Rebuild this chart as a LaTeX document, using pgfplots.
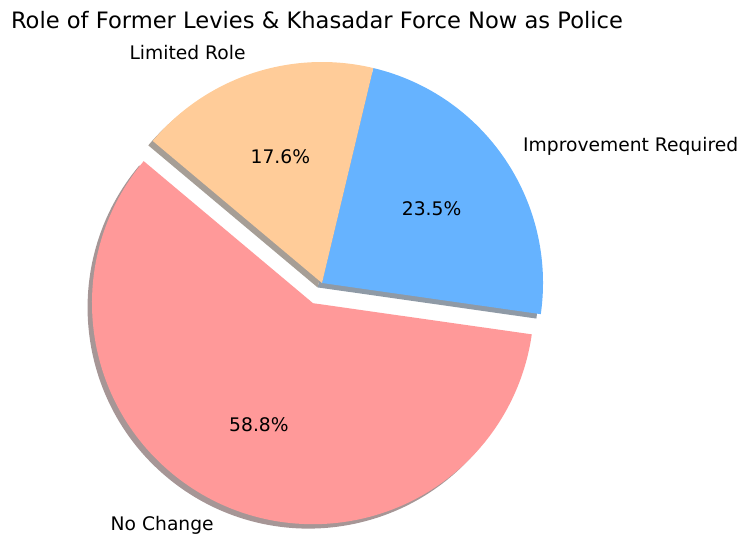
\documentclass[border=0pt]{standalone}
\usepackage{pgfplots}
\pgfplotsset{compat=1.18}
\usepackage{pgfplotstable}
\usepackage{fontspec}
\setmainfont{DejaVu Sans}
\definecolor{cNo}{HTML}{FF9999}
\definecolor{cImp}{HTML}{66B3FF}
\definecolor{cLim}{HTML}{FFCC99}
\definecolor{sNo}{RGB}{166,150,150}
\definecolor{sImp}{RGB}{143,154,166}
\definecolor{sLim}{RGB}{166,158,150}

\pgfplotstableread[col sep=comma]{
label,value
No Change,58.8
Improvement Required,23.5
Limited Role,17.6
}\piedata

\begin{document}
\begin{tikzpicture}
\pgfplotstablegetelem{0}{value}\of\piedata \pgfmathsetmacro\va{\pgfplotsretval}
\pgfplotstablegetelem{1}{value}\of\piedata \pgfmathsetmacro\vb{\pgfplotsretval}
\pgfplotstablegetelem{2}{value}\of\piedata \pgfmathsetmacro\vc{\pgfplotsretval}
\pgfplotstablegetelem{0}{label}\of\piedata \let\la\pgfplotsretval
\pgfplotstablegetelem{1}{label}\of\piedata \let\lb\pgfplotsretval
\pgfplotstablegetelem{2}{label}\of\piedata \let\lc\pgfplotsretval
\def\R{221}
\pgfmathsetmacro\tot{\va+\vb+\vc}
\pgfmathsetmacro\fa{\va/\tot}
\pgfmathsetmacro\fb{\vb/\tot}
\pgfmathsetmacro\fc{\vc/\tot}
\pgfmathsetmacro\sA{140}
\pgfmathsetmacro\eA{\sA+\fa*360}
\pgfmathsetmacro\eB{\eA+\fb*360}
\pgfmathsetmacro\eC{\eB+\fc*360}
\pgfmathsetmacro\mA{(\sA+\eA)/2}
\pgfmathsetmacro\mB{(\eA+\eB)/2}
\pgfmathsetmacro\mC{(\eB+\eC)/2}
% exploded centre of first wedge
\pgfmathsetmacro\oxA{0.1*\R*cos(\mA)}
\pgfmathsetmacro\oyA{0.1*\R*sin(\mA)}
% shadow offsets
\def\sh{4.42}
\pgfmathsetmacro\sxA{\oxA-\sh}
\pgfmathsetmacro\syA{\oyA-\sh}
% label positions
\pgfmathsetmacro\lxA{\oxA+1.1*\R*cos(\mA)}
\pgfmathsetmacro\lyA{\oyA+1.1*\R*sin(\mA)}
\pgfmathsetmacro\lxB{1.1*\R*cos(\mB)}
\pgfmathsetmacro\lyB{1.1*\R*sin(\mB)}
\pgfmathsetmacro\lxC{1.1*\R*cos(\mC)}
\pgfmathsetmacro\lyC{1.1*\R*sin(\mC)}
\pgfmathsetmacro\pxA{\oxA+0.6*\R*cos(\mA)}
\pgfmathsetmacro\pyA{\oyA+0.6*\R*sin(\mA)}
\pgfmathsetmacro\pxB{0.6*\R*cos(\mB)}
\pgfmathsetmacro\pyB{0.6*\R*sin(\mB)}
\pgfmathsetmacro\pxC{0.6*\R*cos(\mC)}
\pgfmathsetmacro\pyC{0.6*\R*sin(\mC)}
\pgfkeys{/pgf/number format/.cd, fixed, precision=1, fixed zerofill, assume math mode=true}
\begin{axis}[hide axis, scale only axis, width=744pt, height=537pt,
  xmin=-322, xmax=422, ymin=-254, ymax=283, clip=false]
 \path (axis cs:-322,-254) rectangle (axis cs:422,283);
 % shadows
 \fill[sNo] (axis cs:\sxA,\syA) -- ++(\sA:\R pt) arc[start angle=\sA, end angle=\eA, radius=\R pt] -- cycle;
 \fill[sImp] (axis cs:-\sh,-\sh) -- ++(\eA:\R pt) arc[start angle=\eA, end angle=\eB, radius=\R pt] -- cycle;
 \fill[sLim] (axis cs:-\sh,-\sh) -- ++(\eB:\R pt) arc[start angle=\eB, end angle=\eC, radius=\R pt] -- cycle;
 % wedges
 \fill[cNo] (axis cs:\oxA,\oyA) -- ++(\sA:\R pt) arc[start angle=\sA, end angle=\eA, radius=\R pt] -- cycle;
 \fill[cImp] (axis cs:0,0) -- ++(\eA:\R pt) arc[start angle=\eA, end angle=\eB, radius=\R pt] -- cycle;
 \fill[cLim] (axis cs:0,0) -- ++(\eB:\R pt) arc[start angle=\eB, end angle=\eC, radius=\R pt] -- cycle;
 % labels
 \node[font=\fontsize{18.7}{22}\selectfont, anchor=east, inner sep=0pt] at (axis cs:\lxA,\lyA) {\la};
 \node[font=\fontsize{18.7}{22}\selectfont, anchor=west, inner sep=0pt] at (axis cs:\lxB,\lyB) {\lb};
 \node[font=\fontsize{18.7}{22}\selectfont, anchor=east, inner sep=0pt] at (axis cs:\lxC,\lyC) {\lc};
 \node[font=\fontsize{18.7}{22}\selectfont, inner sep=0pt] at (axis cs:\pxA,\pyA) {\pgfmathprintnumber{\va}\%};
 \node[font=\fontsize{18.7}{22}\selectfont, inner sep=0pt] at (axis cs:\pxB,\pyB) {\pgfmathprintnumber{\vb}\%};
 \node[font=\fontsize{18.7}{22}\selectfont, inner sep=0pt] at (axis cs:\pxC,\pyC) {\pgfmathprintnumber{\vc}\%};
 % title
 \node[font=\fontsize{22.6}{26}\selectfont, anchor=base, inner sep=0pt] at (axis cs:-5,254) {Role of Former Levies \& Khasadar Force Now as Police};
\end{axis}
\end{tikzpicture}
\end{document}
